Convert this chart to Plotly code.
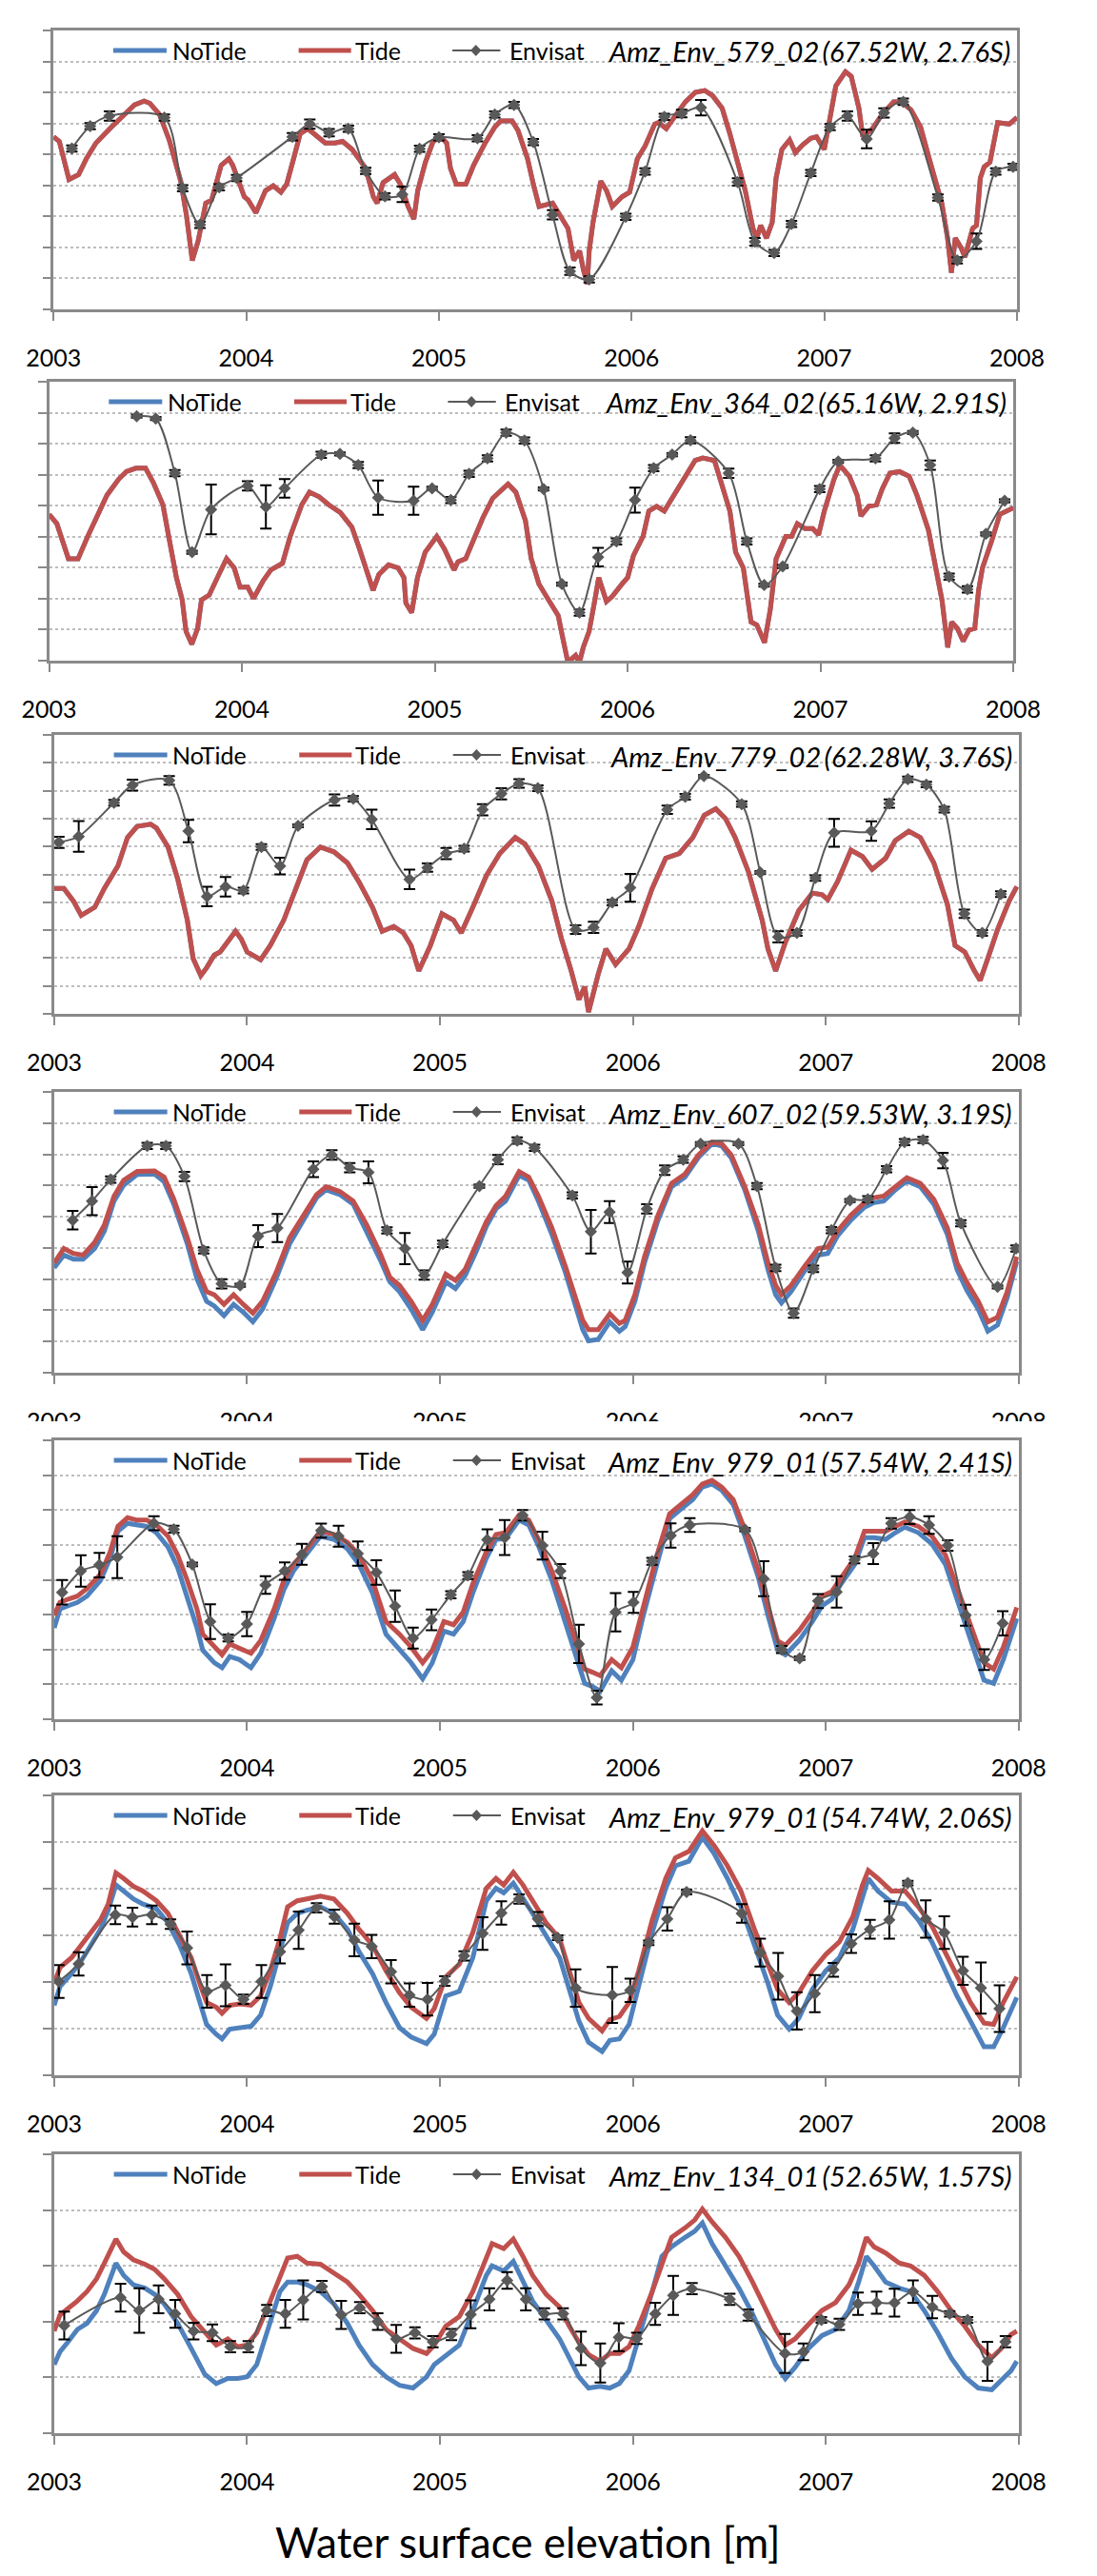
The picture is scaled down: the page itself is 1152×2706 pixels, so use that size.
import plotly.graph_objects as go

# ---------------------------------------------------------------- data
YEARS = [2003, 2004, 2005, 2006, 2007, 2008]
YEAR_LABELS = ["2003", "2004", "2005", "2006", "2007", "2008"]
SERIES = ["NoTide", "Tide", "Envisat"]
STATIONS = [
    "Amz_Env_579_02\u2009(67.52W, 2.76S)",
    "Amz_Env_364_02\u2009(65.16W, 2.91S)",
    "Amz_Env_779_02\u2009(62.28W, 3.76S)",
    "Amz_Env_607_02\u2009(59.53W, 3.19S)",
    "Amz_Env_979_01\u2009(57.54W, 2.41S)",
    "Amz_Env_979_01\u2009(54.74W, 2.06S)",
    "Amz_Env_134_01\u2009(52.65W, 1.57S)",
]
# values are in grid-line units (the y tick labels are cropped off the picture)
N_GRID = [9, 9, 10, 9, 8, 6, 5]

# ---- panel 1
P1_X = [2003.00, 2003.03, 2003.08, 2003.13, 2003.17, 2003.22, 2003.30, 2003.37, 2003.42, 2003.47, 2003.50, 2003.55, 2003.60, 2003.66, 2003.69, 2003.72, 2003.75, 2003.79, 2003.82, 2003.87, 2003.91, 2003.93, 2003.99, 2004.01, 2004.05, 2004.10, 2004.14, 2004.18, 2004.21, 2004.25, 2004.28, 2004.32, 2004.37, 2004.41, 2004.46, 2004.50, 2004.55, 2004.62, 2004.66, 2004.68, 2004.71, 2004.74, 2004.77, 2004.80, 2004.84, 2004.87, 2004.89, 2004.93, 2004.97, 2005.01, 2005.04, 2005.06, 2005.09, 2005.14, 2005.18, 2005.24, 2005.29, 2005.32, 2005.38, 2005.41, 2005.46, 2005.49, 2005.52, 2005.59, 2005.63, 2005.67, 2005.70, 2005.73, 2005.75, 2005.77, 2005.78, 2005.80, 2005.84, 2005.87, 2005.90, 2005.95, 2005.99, 2006.03, 2006.07, 2006.12, 2006.14, 2006.18, 2006.22, 2006.28, 2006.33, 2006.38, 2006.42, 2006.47, 2006.51, 2006.56, 2006.59, 2006.63, 2006.65, 2006.67, 2006.70, 2006.73, 2006.75, 2006.78, 2006.82, 2006.85, 2006.89, 2006.93, 2006.96, 2007.00, 2007.02, 2007.06, 2007.11, 2007.14, 2007.18, 2007.20, 2007.25, 2007.30, 2007.36, 2007.40, 2007.45, 2007.50, 2007.55, 2007.61, 2007.64, 2007.66, 2007.68, 2007.71, 2007.73, 2007.77, 2007.79, 2007.81, 2007.83, 2007.86, 2007.90, 2007.96, 2008.00]
P1_TIDE = [5.57, 5.42, 4.19, 4.35, 4.86, 5.37, 5.88, 6.29, 6.60, 6.72, 6.65, 6.29, 5.47, 4.14, 3.02, 1.58, 2.20, 3.43, 3.53, 4.65, 4.86, 4.65, 3.63, 3.53, 3.12, 3.83, 3.99, 3.78, 4.04, 4.96, 5.67, 5.83, 5.57, 5.37, 5.37, 5.42, 5.16, 4.55, 3.63, 3.43, 4.09, 4.24, 4.35, 4.04, 3.32, 2.91, 3.83, 4.75, 5.42, 5.57, 5.37, 4.55, 4.04, 4.04, 4.65, 5.37, 5.88, 6.08, 6.08, 5.78, 4.86, 4.04, 3.32, 3.43, 3.02, 2.61, 1.58, 1.89, 1.28, 0.82, 1.89, 2.81, 4.14, 3.83, 3.32, 3.63, 3.78, 4.86, 5.27, 5.98, 6.03, 5.83, 6.19, 6.70, 7.00, 7.06, 6.90, 6.49, 5.67, 4.55, 3.83, 2.61, 2.30, 2.71, 2.30, 2.81, 4.24, 5.16, 5.47, 5.06, 5.32, 5.52, 5.57, 5.16, 5.88, 7.21, 7.67, 7.52, 6.49, 5.57, 5.83, 6.29, 6.70, 6.70, 6.44, 5.88, 4.75, 3.43, 2.30, 1.18, 2.30, 1.99, 1.69, 2.61, 2.71, 4.24, 4.60, 4.75, 6.03, 5.98, 6.19]
P1_NOTIDE = list(P1_TIDE)  # hidden under Tide: indistinguishable in this panel
P1_ENV_X = [2003.095, 2003.19, 2003.29, 2003.575, 2003.67, 2003.76, 2003.86, 2003.95, 2004.24, 2004.33, 2004.43, 2004.53, 2004.62, 2004.72, 2004.81, 2004.90, 2005.00, 2005.20, 2005.29, 2005.39, 2005.49, 2005.59, 2005.68, 2005.78, 2005.97, 2006.07, 2006.17, 2006.26, 2006.36, 2006.55, 2006.64, 2006.74, 2006.83, 2006.93, 2007.03, 2007.12, 2007.22, 2007.31, 2007.41, 2007.59, 2007.69, 2007.79, 2007.89, 2007.98]
P1_ENV = [5.19, 5.91, 6.24, 6.19, 3.91, 2.73, 3.94, 4.24, 5.57, 5.98, 5.70, 5.83, 4.47, 3.65, 3.71, 5.18, 5.55, 5.52, 6.29, 6.60, 5.40, 3.05, 1.23, 0.97, 2.99, 4.45, 6.21, 6.32, 6.51, 4.11, 2.18, 1.82, 2.76, 4.40, 5.88, 6.24, 5.50, 6.34, 6.70, 3.61, 1.58, 2.20, 4.45, 4.60]
P1_ERR = [0.1, 0.1, 0.15, 0.1, 0.1, 0.1, 0.1, 0.1, 0.12, 0.15, 0.12, 0.1, 0.1, 0.1, 0.25, 0.1, 0.1, 0.1, 0.1, 0.1, 0.1, 0.15, 0.12, 0.1, 0.1, 0.1, 0.1, 0.12, 0.25, 0.12, 0.12, 0.1, 0.1, 0.1, 0.1, 0.15, 0.3, 0.15, 0.1, 0.1, 0.1, 0.25, 0.1, 0.1]

# ---- panel 2
P2_X = [2003.00, 2003.04, 2003.10, 2003.15, 2003.20, 2003.25, 2003.30, 2003.36, 2003.40, 2003.45, 2003.50, 2003.54, 2003.59, 2003.62, 2003.66, 2003.69, 2003.71, 2003.74, 2003.77, 2003.79, 2003.83, 2003.88, 2003.92, 2003.96, 2003.99, 2004.03, 2004.06, 2004.11, 2004.15, 2004.21, 2004.25, 2004.31, 2004.35, 2004.40, 2004.45, 2004.51, 2004.57, 2004.61, 2004.66, 2004.68, 2004.71, 2004.76, 2004.81, 2004.84, 2004.85, 2004.88, 2004.91, 2004.95, 2005.01, 2005.05, 2005.10, 2005.12, 2005.16, 2005.20, 2005.25, 2005.30, 2005.38, 2005.42, 2005.47, 2005.50, 2005.54, 2005.59, 2005.64, 2005.66, 2005.69, 2005.73, 2005.75, 2005.77, 2005.80, 2005.83, 2005.85, 2005.89, 2005.92, 2005.97, 2006.00, 2006.03, 2006.08, 2006.11, 2006.15, 2006.19, 2006.24, 2006.29, 2006.35, 2006.39, 2006.45, 2006.48, 2006.53, 2006.56, 2006.60, 2006.64, 2006.67, 2006.71, 2006.74, 2006.77, 2006.82, 2006.85, 2006.88, 2006.92, 2006.96, 2006.99, 2007.02, 2007.07, 2007.10, 2007.15, 2007.19, 2007.21, 2007.25, 2007.29, 2007.32, 2007.36, 2007.41, 2007.46, 2007.50, 2007.56, 2007.60, 2007.63, 2007.66, 2007.68, 2007.71, 2007.74, 2007.77, 2007.80, 2007.82, 2007.84, 2007.89, 2007.93, 2008.00]
P2_TIDE = [4.72, 4.42, 3.29, 3.29, 4.01, 4.72, 5.34, 5.85, 6.10, 6.21, 6.21, 5.75, 5.03, 4.01, 2.68, 1.96, 0.94, 0.53, 1.04, 1.96, 2.12, 2.78, 3.29, 2.99, 2.37, 2.37, 2.01, 2.58, 2.93, 3.14, 4.01, 5.03, 5.44, 5.29, 5.03, 4.78, 4.31, 3.60, 2.68, 2.27, 2.78, 3.09, 2.99, 2.68, 1.86, 1.55, 2.68, 3.50, 4.01, 3.60, 2.93, 3.19, 3.29, 3.91, 4.62, 5.24, 5.70, 5.44, 4.52, 3.29, 2.47, 1.96, 1.45, 0.84, -0.05, 0.17, -0.05, 0.43, 0.94, 1.96, 2.68, 1.91, 2.07, 2.47, 2.68, 3.39, 4.01, 4.83, 4.98, 4.83, 5.34, 5.85, 6.46, 6.54, 6.46, 5.85, 4.83, 3.50, 2.99, 1.25, 1.15, 0.58, 1.66, 3.29, 4.01, 4.01, 4.42, 4.26, 4.26, 4.06, 4.83, 5.85, 6.31, 5.95, 5.34, 4.67, 4.98, 5.03, 5.54, 6.05, 6.10, 5.95, 5.34, 4.21, 2.99, 1.96, 0.43, 1.25, 1.04, 0.63, 0.99, 1.04, 2.27, 2.99, 3.91, 4.72, 4.93]
P2_NOTIDE = list(P2_TIDE)  # hidden under Tide
P2_ENV_X = [2003.454, 2003.553, 2003.652, 2003.741, 2003.84, 2004.029, 2004.124, 2004.221, 2004.411, 2004.508, 2004.603, 2004.706, 2004.89, 2004.986, 2005.083, 2005.178, 2005.273, 2005.37, 2005.465, 2005.564, 2005.659, 2005.75, 2005.847, 2005.942, 2006.038, 2006.135, 2006.231, 2006.326, 2006.524, 2006.618, 2006.708, 2006.804, 2006.996, 2007.092, 2007.285, 2007.384, 2007.479, 2007.569, 2007.667, 2007.762, 2007.858, 2007.955]
P2_ENV = [7.89, 7.81, 6.05, 3.50, 4.88, 5.64, 4.96, 5.56, 6.64, 6.67, 6.31, 5.26, 5.16, 5.56, 5.18, 6.03, 6.53, 7.36, 7.10, 5.54, 2.47, 1.55, 3.34, 3.85, 5.18, 6.21, 6.65, 7.11, 6.05, 3.85, 2.44, 3.04, 5.54, 6.43, 6.53, 7.18, 7.36, 6.31, 2.71, 2.30, 4.09, 5.16]
P2_ERR = [0.05, 0.05, 0.1, 0.05, 0.8, 0.15, 0.7, 0.3, 0.1, 0.05, 0.1, 0.55, 0.45, 0.05, 0.1, 0.1, 0.1, 0.1, 0.1, 0.05, 0.05, 0.1, 0.3, 0.1, 0.4, 0.1, 0.05, 0.1, 0.15, 0.1, 0.05, 0.05, 0.1, 0.05, 0.1, 0.15, 0.05, 0.15, 0.1, 0.1, 0.05, 0.05]

# ---- panel 3
P3_X = [2003.00, 2003.05, 2003.10, 2003.14, 2003.21, 2003.26, 2003.33, 2003.38, 2003.43, 2003.50, 2003.53, 2003.59, 2003.64, 2003.69, 2003.72, 2003.76, 2003.79, 2003.83, 2003.86, 2003.90, 2003.94, 2003.97, 2004.00, 2004.07, 2004.12, 2004.19, 2004.24, 2004.31, 2004.38, 2004.45, 2004.52, 2004.58, 2004.65, 2004.70, 2004.76, 2004.81, 2004.85, 2004.89, 2004.95, 2005.01, 2005.07, 2005.11, 2005.17, 2005.24, 2005.31, 2005.39, 2005.44, 2005.51, 2005.58, 2005.63, 2005.68, 2005.72, 2005.75, 2005.77, 2005.82, 2005.86, 2005.91, 2005.98, 2006.03, 2006.10, 2006.17, 2006.24, 2006.31, 2006.37, 2006.43, 2006.48, 2006.53, 2006.60, 2006.67, 2006.70, 2006.74, 2006.79, 2006.86, 2006.93, 2006.98, 2007.01, 2007.06, 2007.13, 2007.19, 2007.24, 2007.31, 2007.36, 2007.43, 2007.49, 2007.56, 2007.63, 2007.67, 2007.72, 2007.77, 2007.80, 2007.84, 2007.89, 2007.95, 2007.99]
P3_TIDE = [4.50, 4.50, 4.04, 3.53, 3.82, 4.50, 5.30, 6.32, 6.72, 6.80, 6.66, 5.98, 4.84, 3.36, 1.99, 1.37, 1.65, 2.11, 2.22, 2.56, 2.96, 2.68, 2.22, 1.94, 2.45, 3.36, 4.27, 5.52, 5.98, 5.81, 5.41, 4.73, 3.82, 2.96, 3.13, 2.90, 2.45, 1.54, 2.45, 3.59, 3.36, 2.90, 3.82, 4.95, 5.75, 6.32, 6.09, 5.30, 4.04, 2.68, 1.54, 0.51, 0.97, 0.06, 1.42, 2.33, 1.77, 2.33, 3.13, 4.50, 5.58, 5.75, 6.32, 7.12, 7.35, 7.00, 6.32, 5.07, 3.36, 2.33, 1.54, 2.56, 3.70, 4.33, 4.27, 4.10, 4.73, 5.87, 5.64, 5.18, 5.58, 6.21, 6.55, 6.32, 5.41, 3.93, 2.45, 2.22, 1.54, 1.20, 1.99, 3.02, 4.04, 4.56]
P3_NOTIDE = list(P3_TIDE)  # almost entirely hidden under Tide
P3_ENV_X = [2003.024, 2003.127, 2003.31, 2003.406, 2003.596, 2003.696, 2003.792, 2003.888, 2003.981, 2004.074, 2004.171, 2004.264, 2004.453, 2004.55, 2004.646, 2004.842, 2004.935, 2005.032, 2005.125, 2005.221, 2005.318, 2005.41, 2005.507, 2005.703, 2005.796, 2005.893, 2005.986, 2006.178, 2006.271, 2006.368, 2006.564, 2006.66, 2006.753, 2006.85, 2006.946, 2007.043, 2007.236, 2007.329, 2007.425, 2007.521, 2007.614, 2007.718, 2007.811, 2007.907]
P3_ENV = [6.15, 6.36, 7.57, 8.20, 8.37, 6.55, 4.21, 4.56, 4.42, 5.98, 5.30, 6.74, 7.67, 7.71, 6.97, 4.82, 5.24, 5.75, 5.92, 7.32, 7.89, 8.26, 8.09, 3.02, 3.10, 3.99, 4.52, 7.32, 7.78, 8.52, 7.52, 5.07, 2.76, 2.90, 4.87, 6.49, 6.55, 7.54, 8.41, 8.22, 7.32, 3.59, 2.90, 4.29]
P3_ERR = [0.2, 0.55, 0.1, 0.2, 0.15, 0.4, 0.35, 0.35, 0.1, 0.1, 0.3, 0.05, 0.2, 0.1, 0.35, 0.35, 0.15, 0.2, 0.1, 0.2, 0.2, 0.15, 0.1, 0.15, 0.2, 0.1, 0.5, 0.15, 0.1, 0.05, 0.1, 0.05, 0.2, 0.1, 0.1, 0.5, 0.35, 0.15, 0.1, 0.1, 0.1, 0.15, 0.1, 0.1]

# ---- panel 4
P4_X = [2003.00, 2003.05, 2003.10, 2003.15, 2003.21, 2003.26, 2003.31, 2003.36, 2003.43, 2003.52, 2003.57, 2003.62, 2003.69, 2003.74, 2003.79, 2003.83, 2003.88, 2003.93, 2003.98, 2004.03, 2004.08, 2004.15, 2004.22, 2004.29, 2004.36, 2004.41, 2004.48, 2004.55, 2004.62, 2004.69, 2004.74, 2004.79, 2004.85, 2004.91, 2004.96, 2005.03, 2005.08, 2005.13, 2005.19, 2005.24, 2005.29, 2005.34, 2005.41, 2005.46, 2005.51, 2005.58, 2005.65, 2005.70, 2005.74, 2005.77, 2005.82, 2005.88, 2005.93, 2005.96, 2006.01, 2006.06, 2006.13, 2006.20, 2006.27, 2006.34, 2006.41, 2006.46, 2006.51, 2006.58, 2006.65, 2006.70, 2006.74, 2006.77, 2006.82, 2006.89, 2006.96, 2007.01, 2007.06, 2007.13, 2007.20, 2007.25, 2007.30, 2007.36, 2007.42, 2007.49, 2007.56, 2007.63, 2007.68, 2007.73, 2007.79, 2007.84, 2007.89, 2007.94, 2007.99]
P4_TIDE = [3.52, 3.98, 3.82, 3.77, 4.18, 4.74, 5.66, 6.17, 6.45, 6.47, 6.27, 5.56, 4.33, 3.31, 2.60, 2.50, 2.19, 2.50, 2.19, 1.91, 2.29, 3.21, 4.33, 5.05, 5.71, 5.96, 5.81, 5.50, 4.74, 3.82, 3.06, 2.80, 2.29, 1.68, 2.19, 3.16, 2.96, 3.31, 4.13, 4.84, 5.35, 5.66, 6.45, 6.27, 5.66, 4.64, 3.41, 2.40, 1.68, 1.38, 1.38, 1.89, 1.58, 1.68, 2.50, 3.72, 5.05, 6.07, 6.37, 6.98, 7.39, 7.34, 6.98, 5.96, 4.74, 3.52, 2.80, 2.50, 2.80, 3.41, 3.98, 4.03, 4.54, 5.05, 5.45, 5.61, 5.66, 5.96, 6.25, 6.07, 5.56, 4.64, 3.52, 2.91, 2.29, 1.63, 1.78, 2.60, 3.72]
P4_NOTIDE = [3.36, 3.77, 3.64, 3.64, 3.98, 4.54, 5.50, 6.01, 6.35, 6.37, 6.12, 5.40, 4.13, 3.01, 2.29, 2.14, 1.83, 2.19, 1.94, 1.63, 2.04, 3.01, 4.13, 4.89, 5.61, 5.86, 5.71, 5.40, 4.54, 3.62, 2.91, 2.60, 2.04, 1.38, 1.94, 2.91, 2.70, 3.11, 3.92, 4.69, 5.25, 5.50, 6.32, 6.17, 5.50, 4.43, 3.21, 2.19, 1.38, 1.02, 1.07, 1.63, 1.33, 1.48, 2.29, 3.52, 4.89, 5.96, 6.27, 6.90, 7.34, 7.27, 6.88, 5.86, 4.54, 3.31, 2.50, 2.24, 2.60, 3.26, 3.77, 3.82, 4.38, 4.89, 5.30, 5.45, 5.50, 5.86, 6.15, 5.96, 5.40, 4.43, 3.31, 2.65, 2.04, 1.33, 1.53, 2.40, 3.57]
P4_ENV_X = [2003.096, 2003.196, 2003.293, 2003.482, 2003.579, 2003.675, 2003.775, 2003.868, 2003.964, 2004.057, 2004.157, 2004.343, 2004.439, 2004.532, 2004.629, 2004.725, 2004.818, 2004.918, 2005.014, 2005.204, 2005.30, 2005.40, 2005.49, 2005.686, 2005.782, 2005.879, 2005.972, 2006.072, 2006.165, 2006.261, 2006.351, 2006.547, 2006.643, 2006.74, 2006.833, 2006.936, 2007.029, 2007.125, 2007.218, 2007.315, 2007.408, 2007.504, 2007.607, 2007.70, 2007.89, 2007.986]
P4_ENV = [4.89, 5.50, 6.19, 7.27, 7.27, 6.29, 3.92, 2.85, 2.80, 4.38, 4.64, 6.52, 6.98, 6.57, 6.42, 4.56, 3.98, 3.13, 4.13, 5.98, 6.83, 7.44, 7.21, 5.68, 4.52, 5.15, 3.21, 5.25, 6.49, 6.83, 7.34, 7.34, 5.98, 3.36, 1.91, 3.33, 4.57, 5.52, 5.56, 6.52, 7.39, 7.46, 6.80, 4.79, 2.75, 3.98]
P4_ERR = [0.3, 0.45, 0.1, 0.1, 0.1, 0.15, 0.1, 0.15, 0.05, 0.35, 0.45, 0.25, 0.15, 0.15, 0.35, 0.1, 0.5, 0.15, 0.1, 0.05, 0.15, 0.1, 0.1, 0.1, 0.7, 0.35, 0.35, 0.15, 0.15, 0.1, 0.05, 0.05, 0.1, 0.1, 0.15, 0.1, 0.1, 0.05, 0.1, 0.1, 0.1, 0.1, 0.25, 0.1, 0.05, 0.1]

# ---- panel 5
P5_X = [2003.00, 2003.03, 2003.07, 2003.12, 2003.17, 2003.24, 2003.29, 2003.33, 2003.38, 2003.43, 2003.48, 2003.53, 2003.59, 2003.64, 2003.69, 2003.74, 2003.77, 2003.83, 2003.87, 2003.91, 2003.96, 2004.02, 2004.07, 2004.14, 2004.19, 2004.24, 2004.31, 2004.38, 2004.45, 2004.52, 2004.58, 2004.65, 2004.72, 2004.79, 2004.85, 2004.91, 2004.96, 2005.02, 2005.07, 2005.12, 2005.17, 2005.24, 2005.29, 2005.34, 2005.41, 2005.46, 2005.51, 2005.58, 2005.65, 2005.70, 2005.75, 2005.79, 2005.83, 2005.89, 2005.94, 2006.00, 2006.05, 2006.12, 2006.19, 2006.25, 2006.31, 2006.36, 2006.41, 2006.46, 2006.52, 2006.58, 2006.65, 2006.70, 2006.75, 2006.79, 2006.86, 2006.93, 2006.98, 2007.03, 2007.08, 2007.15, 2007.20, 2007.25, 2007.31, 2007.36, 2007.41, 2007.48, 2007.55, 2007.62, 2007.68, 2007.75, 2007.82, 2007.87, 2007.92, 2007.99]
P5_TIDE = [2.98, 3.35, 3.44, 3.53, 3.75, 4.16, 4.80, 5.53, 5.78, 5.71, 5.71, 5.57, 5.25, 4.71, 3.98, 3.16, 2.44, 2.07, 1.85, 2.16, 2.03, 1.89, 2.25, 3.16, 3.98, 4.44, 4.89, 5.39, 5.30, 5.07, 4.71, 3.98, 2.80, 2.44, 2.07, 1.62, 1.98, 2.80, 2.71, 3.07, 3.89, 4.80, 5.30, 5.35, 5.85, 5.71, 5.16, 4.25, 3.16, 2.25, 1.44, 1.35, 1.25, 1.71, 1.48, 2.07, 3.16, 4.62, 5.89, 6.16, 6.44, 6.75, 6.85, 6.66, 6.30, 5.44, 4.25, 3.25, 2.25, 2.12, 2.53, 3.07, 3.53, 3.66, 4.07, 4.62, 5.39, 5.39, 5.39, 5.53, 5.66, 5.53, 5.25, 4.71, 3.80, 2.71, 1.62, 1.44, 2.07, 3.21]
P5_NOTIDE = [2.62, 3.16, 3.25, 3.35, 3.53, 3.98, 4.62, 5.39, 5.62, 5.57, 5.53, 5.35, 4.94, 4.35, 3.53, 2.62, 1.98, 1.62, 1.48, 1.80, 1.71, 1.48, 1.89, 2.89, 3.71, 4.25, 4.75, 5.25, 5.16, 4.89, 4.44, 3.62, 2.44, 1.98, 1.62, 1.16, 1.62, 2.53, 2.44, 2.80, 3.62, 4.62, 5.16, 5.18, 5.71, 5.57, 4.98, 3.98, 2.80, 1.89, 1.03, 0.94, 0.80, 1.39, 1.12, 1.71, 2.89, 4.35, 5.75, 6.03, 6.30, 6.66, 6.75, 6.57, 6.16, 5.25, 4.07, 2.98, 1.98, 1.85, 2.25, 2.80, 3.25, 3.44, 3.89, 4.44, 5.21, 5.21, 5.16, 5.35, 5.51, 5.35, 5.03, 4.44, 3.44, 2.25, 1.12, 1.03, 1.71, 2.89]
P5_ENV_X = [2003.041, 2003.138, 2003.234, 2003.327, 2003.517, 2003.62, 2003.716, 2003.809, 2003.902, 2003.999, 2004.095, 2004.195, 2004.284, 2004.384, 2004.474, 2004.574, 2004.67, 2004.767, 2004.86, 2004.956, 2005.056, 2005.145, 2005.245, 2005.335, 2005.428, 2005.531, 2005.624, 2005.72, 2005.813, 2005.91, 2006.003, 2006.099, 2006.196, 2006.295, 2006.581, 2006.678, 2006.771, 2006.864, 2006.96, 2007.056, 2007.149, 2007.246, 2007.339, 2007.435, 2007.535, 2007.632, 2007.725, 2007.821, 2007.917]
P5_ENV = [3.64, 4.25, 4.42, 4.65, 5.62, 5.45, 4.44, 2.80, 2.33, 2.73, 3.85, 4.25, 4.73, 5.41, 5.25, 4.75, 4.21, 3.24, 2.33, 2.85, 3.57, 4.12, 5.15, 5.21, 5.85, 4.98, 4.25, 2.16, 0.62, 3.07, 3.35, 4.53, 5.27, 5.57, 5.44, 4.03, 2.00, 1.75, 3.39, 3.65, 4.57, 4.75, 5.62, 5.80, 5.57, 4.98, 2.98, 1.71, 2.75]
P5_ERR = [0.35, 0.45, 0.35, 0.6, 0.2, 0.1, 0.05, 0.5, 0.1, 0.35, 0.25, 0.25, 0.3, 0.2, 0.3, 0.35, 0.35, 0.45, 0.3, 0.3, 0.1, 0.1, 0.3, 0.5, 0.15, 0.4, 0.2, 0.55, 0.2, 0.55, 0.3, 0.1, 0.35, 0.2, 0.05, 0.5, 0.1, 0.05, 0.2, 0.45, 0.1, 0.3, 0.15, 0.2, 0.25, 0.15, 0.3, 0.3, 0.35]

# ---- panel 6
P6_X = [2003.00, 2003.03, 2003.09, 2003.14, 2003.19, 2003.24, 2003.28, 2003.32, 2003.36, 2003.41, 2003.46, 2003.53, 2003.59, 2003.65, 2003.71, 2003.76, 2003.79, 2003.84, 2003.87, 2003.91, 2003.96, 2004.02, 2004.07, 2004.12, 2004.17, 2004.21, 2004.26, 2004.31, 2004.38, 2004.45, 2004.52, 2004.58, 2004.65, 2004.72, 2004.79, 2004.85, 2004.93, 2004.97, 2005.03, 2005.10, 2005.17, 2005.24, 2005.29, 2005.33, 2005.38, 2005.43, 2005.48, 2005.55, 2005.62, 2005.67, 2005.72, 2005.77, 2005.84, 2005.88, 2005.93, 2005.98, 2006.03, 2006.10, 2006.17, 2006.22, 2006.29, 2006.36, 2006.42, 2006.49, 2006.56, 2006.63, 2006.70, 2006.75, 2006.81, 2006.86, 2006.93, 2007.00, 2007.07, 2007.14, 2007.19, 2007.22, 2007.27, 2007.34, 2007.41, 2007.48, 2007.55, 2007.61, 2007.68, 2007.75, 2007.82, 2007.87, 2007.92, 2007.99]
P6_TIDE = [1.97, 2.31, 2.52, 2.79, 3.06, 3.33, 3.67, 4.34, 4.22, 4.05, 3.95, 3.74, 3.47, 2.99, 2.52, 1.90, 1.56, 1.46, 1.33, 1.50, 1.53, 1.50, 1.70, 2.24, 2.93, 3.61, 3.74, 3.78, 3.84, 3.78, 3.47, 3.13, 2.79, 2.24, 1.77, 1.46, 1.22, 1.43, 2.11, 2.38, 3.06, 4.01, 4.22, 4.08, 4.35, 4.08, 3.74, 3.27, 2.93, 2.24, 1.56, 1.22, 0.95, 1.19, 1.26, 1.56, 2.24, 3.33, 4.22, 4.66, 4.80, 5.24, 4.93, 4.49, 3.95, 3.13, 2.38, 1.84, 1.56, 1.77, 2.24, 2.59, 2.86, 3.40, 4.08, 4.39, 4.22, 3.95, 3.95, 3.61, 3.20, 2.72, 2.11, 1.56, 1.12, 1.09, 1.56, 2.11]
P6_NOTIDE = [1.50, 1.90, 2.18, 2.45, 2.79, 3.13, 3.54, 4.08, 3.95, 3.78, 3.67, 3.57, 3.27, 2.79, 2.18, 1.50, 1.09, 0.88, 0.78, 0.99, 1.02, 1.05, 1.29, 1.90, 2.65, 3.27, 3.47, 3.54, 3.61, 3.47, 3.13, 2.65, 2.18, 1.56, 1.02, 0.82, 0.68, 0.88, 1.70, 1.80, 2.52, 3.74, 4.01, 3.91, 4.12, 3.81, 3.47, 2.99, 2.52, 1.84, 1.16, 0.71, 0.51, 0.75, 0.78, 1.09, 1.90, 3.06, 4.01, 4.49, 4.59, 5.10, 4.76, 4.22, 3.61, 2.79, 1.97, 1.29, 0.99, 1.22, 1.84, 2.24, 2.52, 3.13, 3.81, 4.22, 3.95, 3.71, 3.67, 3.33, 2.86, 2.31, 1.70, 1.16, 0.61, 0.61, 1.02, 1.67]
P6_ENV_X = [2003.024, 2003.127, 2003.317, 2003.406, 2003.506, 2003.603, 2003.689, 2003.792, 2003.888, 2003.981, 2004.074, 2004.171, 2004.267, 2004.36, 2004.453, 2004.556, 2004.646, 2004.746, 2004.842, 2004.935, 2005.025, 2005.125, 2005.221, 2005.318, 2005.41, 2005.507, 2005.61, 2005.703, 2005.893, 2005.986, 2006.082, 2006.178, 2006.278, 2006.564, 2006.66, 2006.753, 2006.85, 2006.943, 2007.039, 2007.132, 2007.229, 2007.329, 2007.425, 2007.518, 2007.614, 2007.711, 2007.804, 2007.90]
P6_ENV = [2.01, 2.39, 3.44, 3.39, 3.44, 3.24, 2.73, 1.80, 1.93, 1.63, 2.01, 2.65, 3.11, 3.59, 3.40, 2.90, 2.76, 2.22, 1.72, 1.63, 2.02, 2.56, 3.04, 3.48, 3.78, 3.35, 2.95, 1.87, 1.72, 1.82, 2.84, 3.35, 3.93, 3.47, 2.63, 2.12, 1.38, 1.75, 2.26, 2.82, 3.13, 3.33, 4.12, 3.35, 3.06, 2.24, 1.87, 1.43]
P6_ERR = [0.35, 0.25, 0.2, 0.2, 0.2, 0.1, 0.35, 0.35, 0.45, 0.1, 0.35, 0.25, 0.4, 0.1, 0.15, 0.35, 0.25, 0.25, 0.25, 0.35, 0.1, 0.1, 0.35, 0.25, 0.1, 0.15, 0.05, 0.4, 0.6, 0.25, 0.05, 0.25, 0.05, 0.2, 0.3, 0.5, 0.4, 0.4, 0.15, 0.2, 0.2, 0.4, 0.05, 0.4, 0.35, 0.3, 0.55, 0.5]

# ---- panel 7
P7_X = [2003.00, 2003.03, 2003.07, 2003.12, 2003.17, 2003.22, 2003.26, 2003.29, 2003.32, 2003.36, 2003.41, 2003.47, 2003.52, 2003.57, 2003.64, 2003.71, 2003.78, 2003.84, 2003.90, 2003.95, 2004.00, 2004.05, 2004.12, 2004.17, 2004.21, 2004.26, 2004.31, 2004.38, 2004.45, 2004.52, 2004.58, 2004.65, 2004.72, 2004.79, 2004.86, 2004.93, 2004.97, 2005.03, 2005.10, 2005.17, 2005.24, 2005.27, 2005.33, 2005.38, 2005.43, 2005.48, 2005.55, 2005.62, 2005.67, 2005.72, 2005.77, 2005.83, 2005.88, 2005.93, 2005.98, 2006.03, 2006.10, 2006.15, 2006.20, 2006.27, 2006.32, 2006.36, 2006.41, 2006.48, 2006.55, 2006.62, 2006.69, 2006.74, 2006.79, 2006.84, 2006.91, 2006.98, 2007.05, 2007.12, 2007.17, 2007.21, 2007.25, 2007.31, 2007.38, 2007.44, 2007.51, 2007.58, 2007.65, 2007.72, 2007.79, 2007.86, 2007.91, 2007.96, 2007.99]
P7_TIDE = [1.83, 2.12, 2.23, 2.37, 2.54, 2.77, 3.05, 3.28, 3.48, 3.25, 3.11, 3.03, 2.94, 2.77, 2.49, 2.09, 1.80, 1.58, 1.69, 1.55, 1.58, 1.80, 2.37, 2.83, 3.14, 3.17, 3.05, 3.03, 2.88, 2.71, 2.49, 2.20, 1.86, 1.69, 1.52, 1.43, 1.58, 1.92, 2.09, 2.54, 3.17, 3.40, 3.31, 3.48, 3.17, 2.83, 2.49, 2.26, 1.92, 1.63, 1.41, 1.29, 1.43, 1.43, 1.55, 1.92, 2.54, 3.03, 3.51, 3.68, 3.82, 4.02, 3.79, 3.51, 3.17, 2.71, 2.20, 1.86, 1.58, 1.69, 1.95, 2.20, 2.34, 2.66, 3.05, 3.51, 3.34, 3.23, 3.05, 3.00, 2.83, 2.54, 2.20, 1.92, 1.58, 1.35, 1.52, 1.77, 1.83]
P7_NOTIDE = [1.23, 1.46, 1.63, 1.86, 1.97, 2.20, 2.49, 2.77, 3.05, 2.83, 2.66, 2.60, 2.49, 2.32, 1.97, 1.52, 1.06, 0.89, 0.98, 0.98, 1.01, 1.23, 2.03, 2.54, 2.71, 2.71, 2.66, 2.54, 2.32, 1.97, 1.58, 1.23, 1.01, 0.86, 0.81, 1.01, 1.23, 1.40, 1.58, 2.20, 2.83, 3.00, 2.91, 3.08, 2.71, 2.37, 2.03, 1.69, 1.35, 1.01, 0.81, 0.84, 0.81, 0.89, 1.12, 1.69, 2.54, 3.17, 3.34, 3.51, 3.62, 3.77, 3.40, 3.00, 2.60, 2.14, 1.63, 1.23, 0.98, 1.18, 1.52, 1.75, 1.86, 2.20, 2.71, 3.17, 3.00, 2.71, 2.60, 2.54, 2.20, 1.80, 1.35, 1.01, 0.81, 0.78, 0.95, 1.12, 1.29]
P7_ENV_X = [2003.052, 2003.344, 2003.441, 2003.541, 2003.627, 2003.723, 2003.82, 2003.913, 2004.006, 2004.102, 2004.198, 2004.291, 2004.388, 2004.488, 2004.584, 2004.677, 2004.773, 2004.87, 2004.963, 2005.059, 2005.159, 2005.256, 2005.348, 2005.445, 2005.541, 2005.638, 2005.731, 2005.831, 2005.927, 2006.02, 2006.116, 2006.209, 2006.306, 2006.502, 2006.598, 2006.788, 2006.884, 2006.977, 2007.07, 2007.167, 2007.263, 2007.356, 2007.452, 2007.552, 2007.642, 2007.735, 2007.838, 2007.931]
P7_ENV = [1.93, 2.43, 2.20, 2.40, 2.14, 1.83, 1.80, 1.55, 1.55, 2.20, 2.14, 2.39, 2.63, 2.12, 2.25, 2.00, 1.69, 1.80, 1.64, 1.77, 2.13, 2.40, 2.74, 2.40, 2.14, 2.14, 1.52, 1.26, 1.72, 1.70, 2.14, 2.47, 2.59, 2.40, 2.12, 1.43, 1.46, 2.03, 1.95, 2.32, 2.34, 2.34, 2.54, 2.26, 2.14, 2.03, 1.29, 1.64]
P7_ERR = [0.25, 0.25, 0.4, 0.25, 0.25, 0.15, 0.15, 0.1, 0.1, 0.1, 0.25, 0.35, 0.1, 0.25, 0.1, 0.15, 0.25, 0.1, 0.1, 0.1, 0.25, 0.2, 0.15, 0.2, 0.1, 0.1, 0.3, 0.35, 0.25, 0.1, 0.2, 0.35, 0.1, 0.1, 0.1, 0.35, 0.15, 0.05, 0.1, 0.2, 0.2, 0.25, 0.2, 0.2, 0.05, 0.05, 0.35, 0.1]

PANELS = [
    (P1_X, P1_NOTIDE, P1_TIDE, P1_ENV_X, P1_ENV, P1_ERR),
    (P2_X, P2_NOTIDE, P2_TIDE, P2_ENV_X, P2_ENV, P2_ERR),
    (P3_X, P3_NOTIDE, P3_TIDE, P3_ENV_X, P3_ENV, P3_ERR),
    (P4_X, P4_NOTIDE, P4_TIDE, P4_ENV_X, P4_ENV, P4_ERR),
    (P5_X, P5_NOTIDE, P5_TIDE, P5_ENV_X, P5_ENV, P5_ERR),
    (P6_X, P6_NOTIDE, P6_TIDE, P6_ENV_X, P6_ENV, P6_ERR),
    (P7_X, P7_NOTIDE, P7_TIDE, P7_ENV_X, P7_ENV, P7_ERR),
]
for n, (tx, nt, td, ex, ev, ee) in enumerate(PANELS, 1):
    if not (len(tx) == len(nt) == len(td)) or not (len(ex) == len(ev) == len(ee)):
        raise SystemExit(f"panel {n}: {len(tx)} {len(nt)} {len(td)} / {len(ex)} {len(ev)} {len(ee)}")

# ---------------------------------------------------------------- layout
W, H = 1152, 2706
FONT = "Lato"
BLUE, RED, GREY = "#4F81BD", "#C0504D", "#595959"
AXIS_C, GRID_C = "#8A8A8A", "#BDBDBD"
# plot-area boxes in pixels: left, right, top, bottom
BOXES = [(28.7, 1094, 32, 325), (23.8, 1090, 401, 694), (29.4, 1096, 772, 1065),
         (29.4, 1096, 1147, 1442), (29.4, 1096, 1513, 1806), (29.4, 1096, 1886, 2180),
         (29.4, 1096, 2263, 2556)]


def fx(px):
    return px / W


def fy(py):
    return 1 - py / H


fig = go.Figure()
shapes, annotations = [], []
for i, (tx, nt, td, ex, ev, ee) in enumerate(PANELS):
    k = "" if i == 0 else str(i + 1)
    L, R, T, B = BOXES[i]
    common = dict(xaxis="x" + k, yaxis="y" + k, showlegend=False, hoverinfo="skip")
    fig.add_trace(go.Scatter(x=tx, y=nt, name=SERIES[0], mode="lines",
                             line=dict(color=BLUE, width=5), **common))
    fig.add_trace(go.Scatter(x=tx, y=td, name=SERIES[1], mode="lines",
                             line=dict(color=RED, width=5), **common))
    fig.add_trace(go.Scatter(x=ex, y=ev, name=SERIES[2], mode="lines+markers",
                             line=dict(color=GREY, width=2, shape="spline", smoothing=0.8),
                             marker=dict(symbol="diamond", size=10, color=GREY),
                             error_y=dict(type="data", array=ee, visible=True, color="black",
                                          thickness=2, width=6), **common))
    fig.layout["xaxis" + k] = dict(
        domain=[fx(L), fx(R)], range=[2003, 2008], anchor="y" + k,
        tickmode="array", tickvals=YEARS, ticktext=YEAR_LABELS,
        ticks="outside", ticklen=9, tickwidth=2, tickcolor=AXIS_C,
        showline=True, linecolor=AXIS_C, linewidth=2.5, mirror=True,
        showgrid=False, zeroline=False, ticklabelstandoff=18,
        tickfont=dict(family=FONT, size=25, color="black"), fixedrange=True)
    fig.layout["yaxis" + k] = dict(
        domain=[fy(B), fy(T)], range=[0, N_GRID[i]], anchor="x" + k, dtick=1, tick0=0,
        ticks="outside", ticklen=9, tickwidth=2, tickcolor=AXIS_C, showticklabels=False,
        showline=True, linecolor=AXIS_C, linewidth=2.5, mirror=True,
        showgrid=True, gridcolor=GRID_C, gridwidth=1.5, griddash="dot",
        zeroline=False, fixedrange=True)

    # hand-drawn legend row inside the plot area
    ly = T + 21
    for (x0, x1, tx0, col, lw, name) in [(66, 125, 129, BLUE, 5, SERIES[0]),
                                          (271, 329, 331, RED, 5, SERIES[1]),
                                          (441, 494, 502, GREY, 2, SERIES[2])]:
        shapes.append(dict(type="line", xref="paper", yref="paper",
                           x0=fx(L + x0), x1=fx(L + x1), y0=fy(ly), y1=fy(ly),
                           line=dict(color=col, width=lw), layer="above"))
        annotations.append(dict(xref="paper", yref="paper", x=fx(L + tx0), y=fy(ly),
                                xanchor="left", yanchor="middle", showarrow=False,
                                text=name, font=dict(family=FONT, size=25, color="black")))
    cx, d = L + 467, 6
    shapes.append(dict(type="path", xref="paper", yref="paper", layer="above",
                       path=(f"M{fx(cx)},{fy(ly - d)} L{fx(cx + d)},{fy(ly)} "
                             f"L{fx(cx)},{fy(ly + d)} L{fx(cx - d)},{fy(ly)} Z"),
                       fillcolor=GREY, line=dict(width=0)))
    annotations.append(dict(xref="paper", yref="paper", x=fx(R - 5), y=fy(ly + 1),
                            xanchor="right", yanchor="middle", showarrow=False,
                            text="<i>" + STATIONS[i] + "</i>",
                            font=dict(family=FONT, size=29, color="black")))

# the next chart image covers the lower half of panel 4's year labels
shapes.append(dict(type="rect", xref="paper", yref="paper", x0=0, x1=1,
                   y0=fy(1508), y1=fy(1493), fillcolor="white", line=dict(width=0),
                   layer="above"))

annotations.append(dict(xref="paper", yref="paper", x=fx(553), y=fy(2670),
                        xanchor="center", yanchor="middle", showarrow=False,
                        text="Water surface elevation [m]",
                        font=dict(family=FONT, size=44, color="black")))

fig.update_layout(width=W, height=H, autosize=False,
                  margin=dict(l=0, r=0, t=0, b=0, pad=0),
                  paper_bgcolor="white", plot_bgcolor="white",
                  font=dict(family=FONT, color="black"),
                  shapes=shapes, annotations=annotations)

fig.write_html("out.html", config={"displayModeBar": False},
               post_script="document.body.style.margin='0';")
